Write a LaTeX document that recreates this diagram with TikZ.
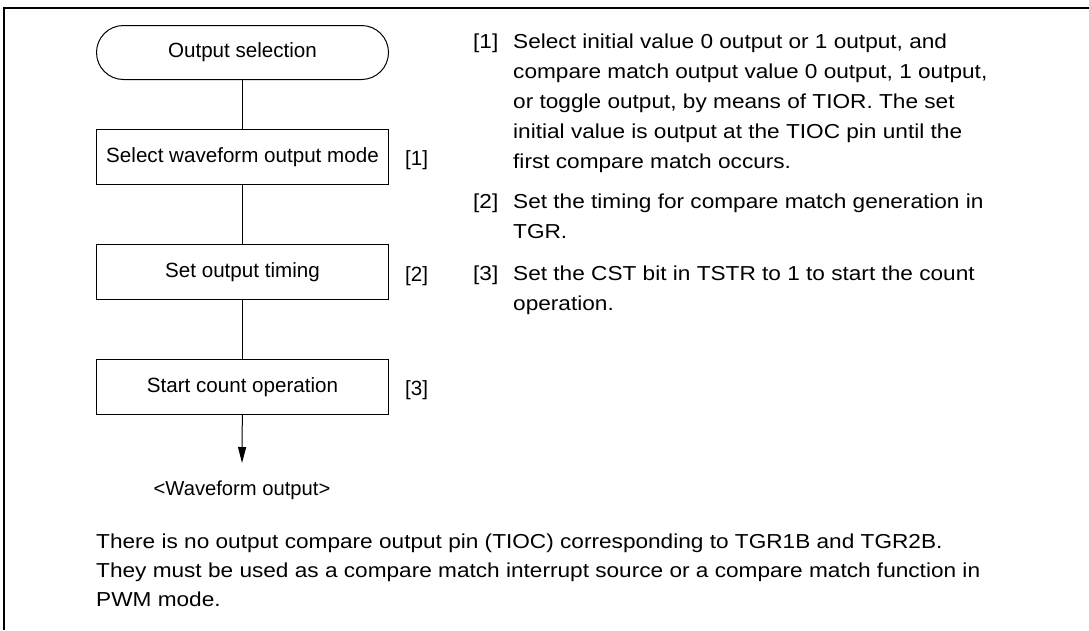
\documentclass[tikz,border=0pt]{standalone}
\usepackage{fontspec}
\setmainfont{Liberation Sans}
\newfontfamily\parafont{Liberation Sans}[FakeStretch=1.12]
\usetikzlibrary{arrows.meta}
\begin{document}
\begin{tikzpicture}[x=1pt,y=-1pt,
  every node/.style={font=\fontsize{20.6}{30}\selectfont, inner sep=0pt},
  stepbox/.style={draw, line width=1pt, minimum width=292pt, minimum height=55pt, anchor=north west},
  termbox/.style={draw, line width=1pt, rounded corners=27pt, minimum width=292pt, minimum height=54pt, anchor=north west},
  conn/.style={line width=1pt},
  txt/.style={anchor=base west},
  ptxt/.style={anchor=base west, font=\parafont\fontsize{20.2}{30}\selectfont}]
\useasboundingbox (0,0) rectangle (1089,630);
% frame
\draw[line width=1.5pt] (4,630) -- (4,8) -- (1089,8);
% flowchart
\node[termbox] (t) at (96,25) {Output selection};
\node[stepbox] (b1) at (96,129) {Select waveform output mode};
\node[stepbox] (b2) at (96,244) {Set output timing};
\node[stepbox] (b3) at (96,359) {Start count operation};
\coordinate (e) at (242,463);
\draw[conn] (t) -- (b1);
\draw[conn] (b1) -- (b2);
\draw[conn] (b2) -- (b3);
\draw[conn, -{Triangle[length=16pt,width=8pt]}] (b3) -- (e);
\node[anchor=base, font=\fontsize{20.2}{30}\selectfont] (wo) at (242,495) {<Waveform output>};
\node[txt] (l1) at (405,165) {[1]};
\node[txt] (l2) at (405,281) {[2]};
\node[txt] (l3) at (405,395) {[3]};
% right description
\node[ptxt] (n1) at (473,48) {[1]};
\node[ptxt] (p1a) at (513,48) {Select initial value 0 output or 1 output, and};
\node[ptxt] (p1b) at (513,78) {compare match output value 0 output, 1 output,};
\node[ptxt] (p1c) at (513,108) {or toggle output, by means of TIOR. The set};
\node[ptxt] (p1d) at (513,138) {initial value is output at the TIOC pin until the};
\node[ptxt] (p1e) at (513,168) {first compare match occurs.};
\node[ptxt] (n2) at (473,208) {[2]};
\node[ptxt] (p2a) at (513,208) {Set the timing for compare match generation in};
\node[ptxt] (p2b) at (513,238) {TGR.};
\node[ptxt] (n3) at (473,280) {[3]};
\node[ptxt] (p3a) at (513,280) {Set the CST bit in TSTR to 1 to start the count};
\node[ptxt] (p3b) at (513,310) {operation.};
% bottom note
\node[ptxt] (q1) at (96,548) {There is no output compare output pin (TIOC) corresponding to TGR1B and TGR2B.};
\node[ptxt] (q2) at (96,577) {They must be used as a compare match interrupt source or a compare match function in};
\node[ptxt] (q3) at (96,606) {PWM mode.};
\end{tikzpicture}
\end{document}
